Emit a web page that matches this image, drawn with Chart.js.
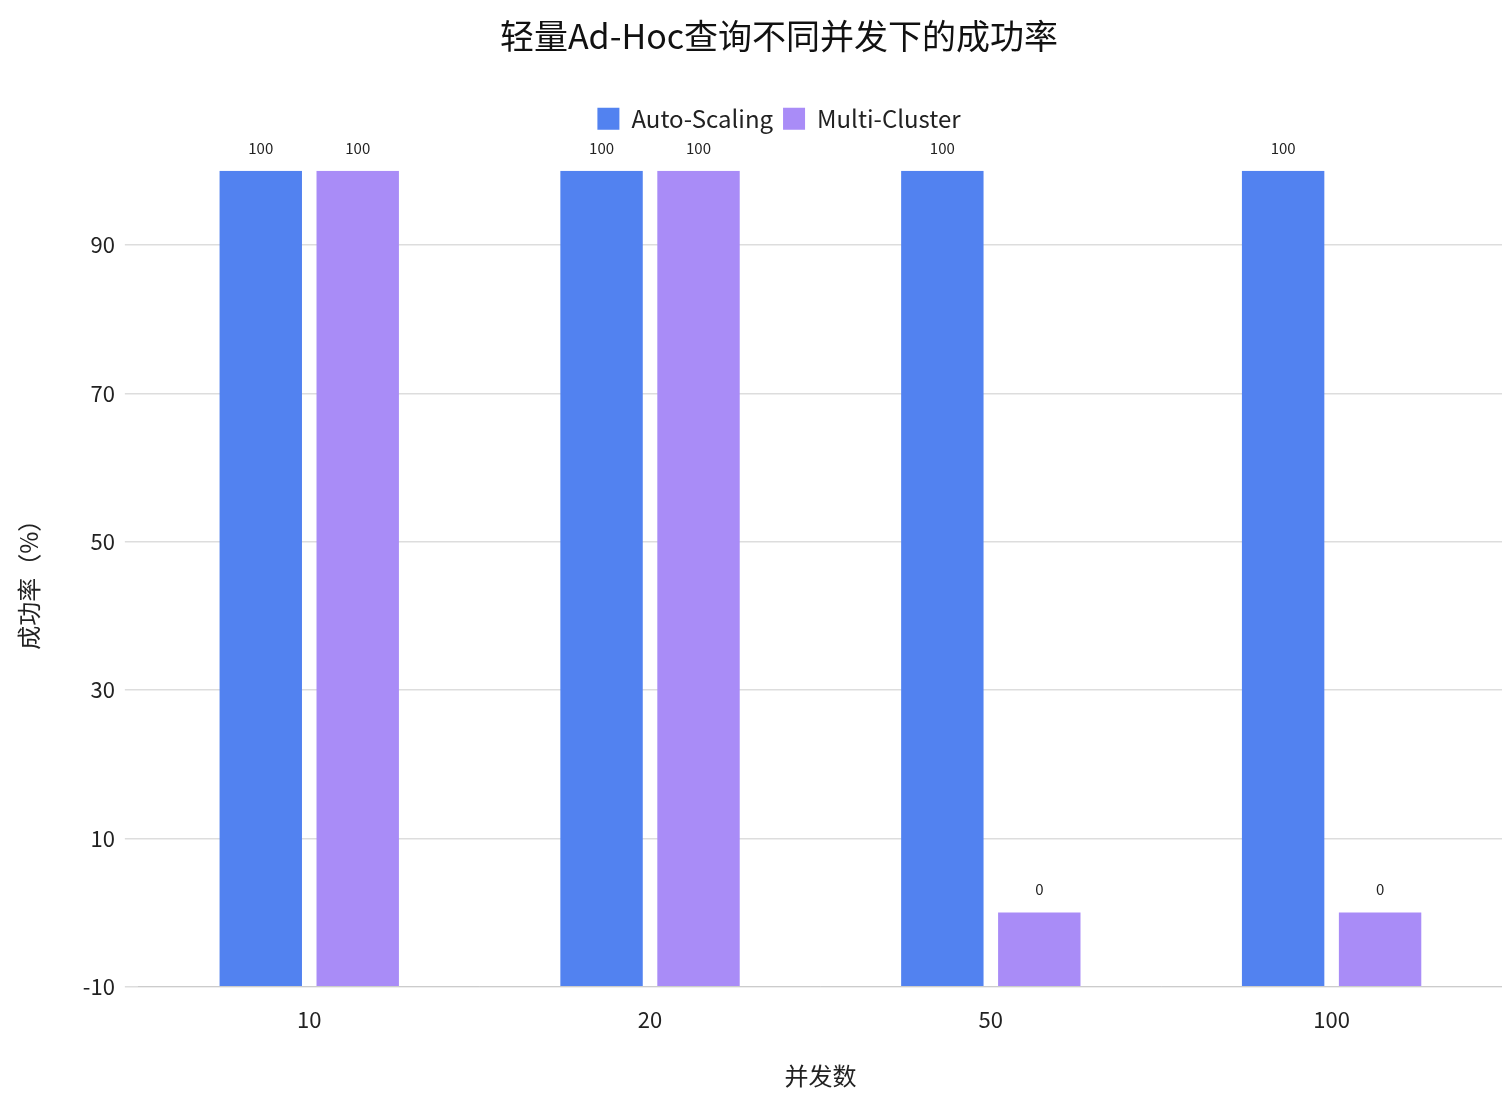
<!DOCTYPE html>
<html><head><meta charset="utf-8">
<script src="https://cdn.jsdelivr.net/npm/chart.js@4/dist/chart.umd.min.js"></script>
<style>html,body{margin:0;background:#fff}#w{width:1502px;height:1102px}</style>
</head><body><div id="w"><canvas id="c"></canvas></div>
<script>
const categories = ['10','20','50','100'];
const autoScaling = [100,100,100,100];
const multiCluster = [100,100,0,0];
const yTicks = [-10,10,30,50,70,90];
const F = '"Noto Sans CJK SC","Noto Sans",sans-serif';
const labelsPlugin = {
  id:'lbl',
  afterDatasetsDraw(chart){
    const ctx=chart.ctx;
    ctx.save();ctx.font='15px '+F;ctx.fillStyle='#222';ctx.textAlign='center';ctx.textBaseline='middle';
    chart.data.datasets.forEach((ds,i)=>{
      chart.getDatasetMeta(i).data.forEach((b,j)=>{ctx.fillText(String(ds.data[j]),b.x,b.y-23);});
    });
    ctx.restore();
  }
};
const legendSpace = {id:'ls',beforeInit(chart){const orig=chart.legend.fit;chart.legend.fit=function(){orig.bind(chart.legend)();this.height+=30;};}};
new Chart(document.getElementById('c'),{
  type:'bar',
  data:{labels:categories,datasets:[
    {label:'Auto-Scaling',data:autoScaling,backgroundColor:'#5282F0',base:-10},
    {label:'Multi-Cluster',data:multiCluster,backgroundColor:'#A98CF7',base:-10}
  ]},
  options:{
    responsive:true,maintainAspectRatio:false,animation:false,
    layout:{padding:{left:10,right:-46,top:12,bottom:8}},
    datasets:{bar:{categoryPercentage:0.569,barPercentage:0.85}},
    plugins:{
      title:{display:true,text:'轻量Ad-Hoc查询不同并发下的成功率',font:{family:F,size:34,weight:'normal'},color:'#111',padding:{top:4,bottom:40}},
      legend:{labels:{font:{family:F,size:24},color:'#222',boxWidth:22,boxHeight:22,padding:10}},
      tooltip:{enabled:false}
    },
    scales:{
      x:{grid:{display:false},border:{color:'#ccc'},ticks:{font:{family:F,size:22},color:'#222',padding:12},
         title:{display:true,text:'并发数',font:{family:F,size:24},color:'#222',padding:{top:16}}},
      y:{min:-10,max:100,
         afterBuildTicks(a){a.ticks=yTicks.map(v=>({value:v}));},
         grid:{color:'#ddd',lineWidth:1.5,drawTicks:true,tickLength:14},border:{display:false},
         ticks:{font:{family:F,size:22},color:'#222',padding:10},
         title:{display:true,text:'成功率（%）',font:{family:F,size:24},color:'#222',padding:{bottom:30}}}
    }
  },
  plugins:[labelsPlugin,legendSpace]
});
</script></body></html>
